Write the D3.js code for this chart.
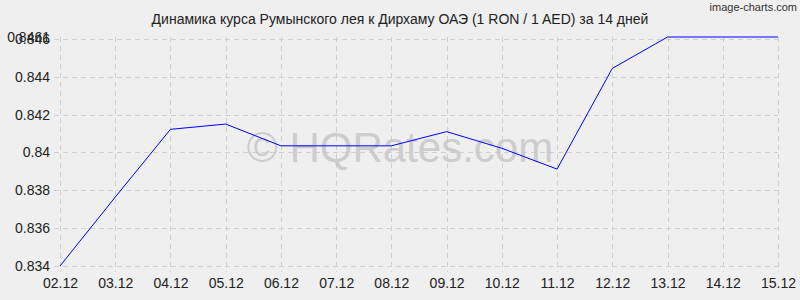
<!DOCTYPE html>
<html>
<head>
<meta charset="utf-8">
<script src="https://cdn.jsdelivr.net/npm/d3@7"></script>
<style>
  body { margin: 0; background: #efefef; }
  text { font-family: "Liberation Sans", Arial, sans-serif; }
</style>
</head>
<body>
<div id="chart"></div>
<script>
// data
var dates = ["02.12", "03.12", "04.12", "05.12", "06.12", "07.12", "08.12",
             "09.12", "10.12", "11.12", "12.12", "13.12", "14.12", "15.12"];
var rates = [0.834, 0.83764, 0.84122, 0.8415, 0.84035, 0.84035, 0.84035,
             0.8411, 0.84022, 0.83912, 0.84444, 0.8461, 0.8461, 0.8461];
var yTicks = [0.834, 0.836, 0.838, 0.84, 0.842, 0.844, 0.846, 0.8461];

var w = 800, h = 300;
// plot box (avoid the name "top", it is window.top)
var plotLeft = 60, plotRight = 778, plotTop = 37, plotBottom = 266;

var svg = d3.select("#chart").append("svg")
    .attr("width", w)
    .attr("height", h);

svg.append("rect").attr("width", w).attr("height", h).attr("fill", "#efefef");

var x = d3.scalePoint().domain(dates).range([plotLeft, plotRight]);
var y = d3.scaleLinear().domain([0.834, 0.8461]).range([plotBottom, plotTop]);

// grid
svg.append("g").selectAll("line").data(dates).enter().append("line")
    .attr("x1", function(d) { return Math.round(x(d)) + 0.5; })
    .attr("x2", function(d) { return Math.round(x(d)) + 0.5; })
    .attr("y1", plotTop).attr("y2", plotBottom + 6)
    .attr("stroke", "#d0d0d0").attr("stroke-dasharray", "5,4");
svg.append("g").selectAll("line").data(yTicks.slice(0, 7)).enter().append("line")
    .attr("x1", plotLeft - 6).attr("x2", plotRight)
    .attr("y1", function(d) { return Math.round(y(d)) + 0.5; })
    .attr("y2", function(d) { return Math.round(y(d)) + 0.5; })
    .attr("stroke", "#d0d0d0").attr("stroke-dasharray", "5,4");

// watermark
svg.append("text")
    .attr("x", 400).attr("y", 162)
    .attr("text-anchor", "middle")
    .attr("font-size", 42)
    .attr("fill", "#c4c4c4")
    .attr("fill-opacity", 0.8)
    .text("© HQRates.com");

// axes labels
var yAxis = d3.axisLeft(y).tickValues(yTicks).tickSize(0).tickPadding(10)
    .tickFormat(function(d) { return String(+d.toFixed(4)); });
var gy = svg.append("g").attr("transform", "translate(" + plotLeft + ",0)").call(yAxis);
gy.select(".domain").remove();
gy.selectAll("text").attr("font-size", 14).attr("fill", "#222")
    .attr("font-family", "Liberation Sans, Arial, sans-serif");

var xAxis = d3.axisBottom(x).tickSize(0).tickPadding(12);
var gx = svg.append("g").attr("transform", "translate(0," + plotBottom + ")").call(xAxis);
gx.select(".domain").remove();
gx.selectAll("text").attr("font-size", 14).attr("fill", "#222")
    .attr("font-family", "Liberation Sans, Arial, sans-serif");

// line
var line = d3.line()
    .x(function(d, i) { return x(dates[i]); })
    .y(function(d) { return y(d); });
svg.append("path")
    .datum(rates)
    .attr("d", line)
    .attr("fill", "none")
    .attr("stroke", "#0000ff")
    .attr("stroke-width", 1);

// title
svg.append("text")
    .attr("x", 400).attr("y", 24)
    .attr("text-anchor", "middle")
    .attr("font-size", 14)
    .attr("fill", "#222")
    .text("Динамика курса Румынского лея к Дирхаму ОАЭ (1 RON / 1 AED) за 14 дней");

svg.append("text")
    .attr("x", 797).attr("y", 11)
    .attr("text-anchor", "end")
    .attr("font-size", 11)
    .attr("font-family", "DejaVu Sans Condensed, DejaVu Sans, sans-serif")
    .attr("fill", "#333")
    .text("image-charts.com");
</script>
</body>
</html>
